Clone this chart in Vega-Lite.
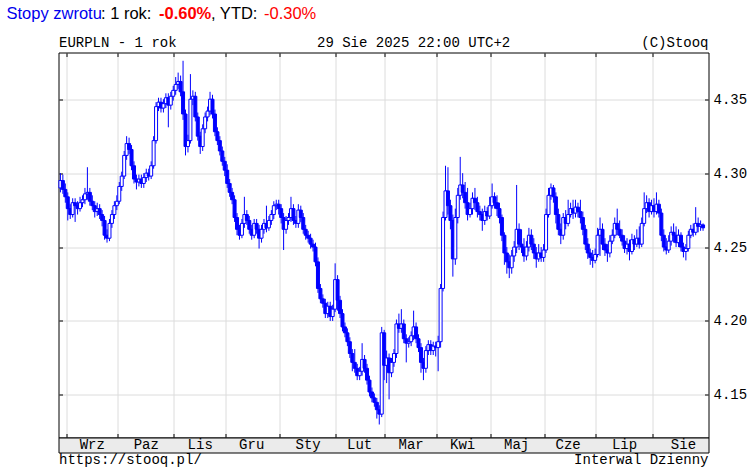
{
  "$schema": "https://vega.github.io/schema/vega-lite/v6.json",
  "autosize": {"type": "pad"},
  "padding": {"left": 5.5, "top": 4.5, "right": 0, "bottom": 0},
  "background": "#ffffff",
  "spacing": 0,
  "bounds": "flush",
  "config": {
    "view": {"stroke": "#000000", "strokeWidth": 1},
    "text": {"font": "Liberation Mono", "fontSize": 14, "color": "#000000"}
  },
  "resolve": {"scale": {"x": "shared"}},
  "datasets": {
    "px": [
      {"d":"2024-08-28","o":4.290,"h":4.300,"l":4.287,"c":4.295},
      {"d":"2024-08-29","o":4.295,"h":4.299,"l":4.286,"c":4.289},
      {"d":"2024-08-30","o":4.289,"h":4.293,"l":4.280,"c":4.284},
      {"d":"2024-09-02","o":4.284,"h":4.287,"l":4.268,"c":4.276},
      {"d":"2024-09-03","o":4.276,"h":4.279,"l":4.269,"c":4.272},
      {"d":"2024-09-04","o":4.272,"h":4.283,"l":4.270,"c":4.280},
      {"d":"2024-09-05","o":4.280,"h":4.283,"l":4.267,"c":4.278},
      {"d":"2024-09-06","o":4.278,"h":4.281,"l":4.272,"c":4.276},
      {"d":"2024-09-09","o":4.276,"h":4.284,"l":4.274,"c":4.280},
      {"d":"2024-09-10","o":4.280,"h":4.285,"l":4.277,"c":4.282},
      {"d":"2024-09-11","o":4.282,"h":4.290,"l":4.279,"c":4.286},
      {"d":"2024-09-12","o":4.286,"h":4.304,"l":4.282,"c":4.287},
      {"d":"2024-09-13","o":4.287,"h":4.290,"l":4.278,"c":4.281},
      {"d":"2024-09-16","o":4.281,"h":4.285,"l":4.275,"c":4.278},
      {"d":"2024-09-17","o":4.278,"h":4.281,"l":4.270,"c":4.274},
      {"d":"2024-09-18","o":4.274,"h":4.280,"l":4.271,"c":4.276},
      {"d":"2024-09-19","o":4.276,"h":4.279,"l":4.269,"c":4.272},
      {"d":"2024-09-20","o":4.272,"h":4.275,"l":4.264,"c":4.268},
      {"d":"2024-09-23","o":4.268,"h":4.271,"l":4.255,"c":4.258},
      {"d":"2024-09-24","o":4.258,"h":4.262,"l":4.253,"c":4.256},
      {"d":"2024-09-25","o":4.256,"h":4.269,"l":4.254,"c":4.266},
      {"d":"2024-09-26","o":4.266,"h":4.275,"l":4.263,"c":4.272},
      {"d":"2024-09-27","o":4.272,"h":4.281,"l":4.269,"c":4.278},
      {"d":"2024-09-30","o":4.278,"h":4.285,"l":4.275,"c":4.281},
      {"d":"2024-10-01","o":4.281,"h":4.294,"l":4.279,"c":4.291},
      {"d":"2024-10-02","o":4.291,"h":4.301,"l":4.288,"c":4.298},
      {"d":"2024-10-03","o":4.298,"h":4.315,"l":4.296,"c":4.312},
      {"d":"2024-10-04","o":4.312,"h":4.325,"l":4.309,"c":4.320},
      {"d":"2024-10-07","o":4.320,"h":4.324,"l":4.313,"c":4.316},
      {"d":"2024-10-08","o":4.316,"h":4.319,"l":4.302,"c":4.305},
      {"d":"2024-10-09","o":4.305,"h":4.308,"l":4.293,"c":4.296},
      {"d":"2024-10-10","o":4.296,"h":4.299,"l":4.289,"c":4.294},
      {"d":"2024-10-11","o":4.294,"h":4.299,"l":4.291,"c":4.296},
      {"d":"2024-10-14","o":4.296,"h":4.299,"l":4.290,"c":4.293},
      {"d":"2024-10-15","o":4.293,"h":4.300,"l":4.290,"c":4.297},
      {"d":"2024-10-16","o":4.297,"h":4.303,"l":4.294,"c":4.300},
      {"d":"2024-10-17","o":4.300,"h":4.303,"l":4.295,"c":4.298},
      {"d":"2024-10-18","o":4.298,"h":4.308,"l":4.296,"c":4.305},
      {"d":"2024-10-21","o":4.305,"h":4.325,"l":4.303,"c":4.322},
      {"d":"2024-10-22","o":4.322,"h":4.348,"l":4.320,"c":4.345},
      {"d":"2024-10-23","o":4.345,"h":4.351,"l":4.342,"c":4.348},
      {"d":"2024-10-24","o":4.348,"h":4.351,"l":4.341,"c":4.344},
      {"d":"2024-10-25","o":4.344,"h":4.350,"l":4.341,"c":4.347},
      {"d":"2024-10-28","o":4.347,"h":4.354,"l":4.344,"c":4.351},
      {"d":"2024-10-29","o":4.351,"h":4.354,"l":4.331,"c":4.346},
      {"d":"2024-10-30","o":4.346,"h":4.355,"l":4.343,"c":4.352},
      {"d":"2024-10-31","o":4.352,"h":4.359,"l":4.349,"c":4.356},
      {"d":"2024-11-01","o":4.356,"h":4.365,"l":4.353,"c":4.360},
      {"d":"2024-11-04","o":4.360,"h":4.368,"l":4.357,"c":4.362},
      {"d":"2024-11-05","o":4.362,"h":4.366,"l":4.352,"c":4.355},
      {"d":"2024-11-06","o":4.355,"h":4.376,"l":4.336,"c":4.340},
      {"d":"2024-11-07","o":4.340,"h":4.343,"l":4.312,"c":4.318},
      {"d":"2024-11-08","o":4.318,"h":4.326,"l":4.314,"c":4.322},
      {"d":"2024-11-11","o":4.322,"h":4.367,"l":4.320,"c":4.350},
      {"d":"2024-11-12","o":4.350,"h":4.356,"l":4.346,"c":4.352},
      {"d":"2024-11-13","o":4.352,"h":4.355,"l":4.335,"c":4.338},
      {"d":"2024-11-14","o":4.338,"h":4.341,"l":4.322,"c":4.325},
      {"d":"2024-11-15","o":4.325,"h":4.328,"l":4.313,"c":4.318},
      {"d":"2024-11-18","o":4.318,"h":4.333,"l":4.315,"c":4.330},
      {"d":"2024-11-19","o":4.330,"h":4.341,"l":4.327,"c":4.338},
      {"d":"2024-11-20","o":4.338,"h":4.345,"l":4.335,"c":4.342},
      {"d":"2024-11-21","o":4.342,"h":4.355,"l":4.339,"c":4.350},
      {"d":"2024-11-22","o":4.350,"h":4.353,"l":4.337,"c":4.340},
      {"d":"2024-11-25","o":4.340,"h":4.343,"l":4.325,"c":4.328},
      {"d":"2024-11-26","o":4.328,"h":4.331,"l":4.319,"c":4.322},
      {"d":"2024-11-27","o":4.322,"h":4.325,"l":4.312,"c":4.315},
      {"d":"2024-11-28","o":4.315,"h":4.318,"l":4.305,"c":4.308},
      {"d":"2024-11-29","o":4.308,"h":4.311,"l":4.298,"c":4.302},
      {"d":"2024-12-02","o":4.302,"h":4.306,"l":4.290,"c":4.293},
      {"d":"2024-12-03","o":4.293,"h":4.296,"l":4.284,"c":4.287},
      {"d":"2024-12-04","o":4.287,"h":4.290,"l":4.279,"c":4.282},
      {"d":"2024-12-05","o":4.282,"h":4.285,"l":4.267,"c":4.270},
      {"d":"2024-12-06","o":4.270,"h":4.273,"l":4.258,"c":4.262},
      {"d":"2024-12-09","o":4.262,"h":4.265,"l":4.255,"c":4.258},
      {"d":"2024-12-10","o":4.258,"h":4.269,"l":4.256,"c":4.266},
      {"d":"2024-12-11","o":4.266,"h":4.284,"l":4.263,"c":4.272},
      {"d":"2024-12-12","o":4.272,"h":4.275,"l":4.265,"c":4.268},
      {"d":"2024-12-13","o":4.268,"h":4.271,"l":4.259,"c":4.262},
      {"d":"2024-12-16","o":4.262,"h":4.265,"l":4.255,"c":4.258},
      {"d":"2024-12-17","o":4.258,"h":4.269,"l":4.256,"c":4.266},
      {"d":"2024-12-18","o":4.266,"h":4.269,"l":4.259,"c":4.262},
      {"d":"2024-12-19","o":4.262,"h":4.265,"l":4.249,"c":4.256},
      {"d":"2024-12-20","o":4.256,"h":4.265,"l":4.253,"c":4.262},
      {"d":"2024-12-23","o":4.262,"h":4.269,"l":4.259,"c":4.266},
      {"d":"2024-12-24","o":4.266,"h":4.278,"l":4.260,"c":4.263},
      {"d":"2024-12-25","o":4.263,"h":4.271,"l":4.261,"c":4.268},
      {"d":"2024-12-26","o":4.268,"h":4.275,"l":4.265,"c":4.272},
      {"d":"2024-12-27","o":4.272,"h":4.281,"l":4.269,"c":4.278},
      {"d":"2024-12-30","o":4.278,"h":4.282,"l":4.275,"c":4.279},
      {"d":"2024-12-31","o":4.279,"h":4.282,"l":4.272,"c":4.276},
      {"d":"2025-01-01","o":4.276,"h":4.279,"l":4.266,"c":4.270},
      {"d":"2025-01-02","o":4.270,"h":4.273,"l":4.248,"c":4.262},
      {"d":"2025-01-03","o":4.262,"h":4.271,"l":4.259,"c":4.268},
      {"d":"2025-01-06","o":4.268,"h":4.273,"l":4.265,"c":4.270},
      {"d":"2025-01-07","o":4.270,"h":4.284,"l":4.267,"c":4.276},
      {"d":"2025-01-08","o":4.276,"h":4.279,"l":4.265,"c":4.268},
      {"d":"2025-01-09","o":4.268,"h":4.271,"l":4.263,"c":4.266},
      {"d":"2025-01-10","o":4.266,"h":4.279,"l":4.263,"c":4.275},
      {"d":"2025-01-13","o":4.275,"h":4.278,"l":4.267,"c":4.270},
      {"d":"2025-01-14","o":4.270,"h":4.273,"l":4.259,"c":4.262},
      {"d":"2025-01-15","o":4.262,"h":4.265,"l":4.255,"c":4.258},
      {"d":"2025-01-16","o":4.258,"h":4.261,"l":4.253,"c":4.256},
      {"d":"2025-01-17","o":4.256,"h":4.259,"l":4.249,"c":4.252},
      {"d":"2025-01-20","o":4.252,"h":4.255,"l":4.247,"c":4.250},
      {"d":"2025-01-21","o":4.250,"h":4.253,"l":4.237,"c":4.240},
      {"d":"2025-01-22","o":4.240,"h":4.243,"l":4.219,"c":4.222},
      {"d":"2025-01-23","o":4.222,"h":4.225,"l":4.212,"c":4.215},
      {"d":"2025-01-24","o":4.215,"h":4.218,"l":4.209,"c":4.212},
      {"d":"2025-01-27","o":4.212,"h":4.215,"l":4.202,"c":4.205},
      {"d":"2025-01-28","o":4.205,"h":4.213,"l":4.202,"c":4.210},
      {"d":"2025-01-29","o":4.210,"h":4.213,"l":4.200,"c":4.203},
      {"d":"2025-01-30","o":4.203,"h":4.211,"l":4.200,"c":4.208},
      {"d":"2025-01-31","o":4.208,"h":4.239,"l":4.206,"c":4.228},
      {"d":"2025-02-03","o":4.228,"h":4.231,"l":4.207,"c":4.214},
      {"d":"2025-02-04","o":4.214,"h":4.217,"l":4.202,"c":4.205},
      {"d":"2025-02-05","o":4.205,"h":4.208,"l":4.193,"c":4.196},
      {"d":"2025-02-06","o":4.196,"h":4.199,"l":4.189,"c":4.192},
      {"d":"2025-02-07","o":4.192,"h":4.195,"l":4.183,"c":4.186},
      {"d":"2025-02-10","o":4.186,"h":4.189,"l":4.175,"c":4.178},
      {"d":"2025-02-11","o":4.178,"h":4.181,"l":4.166,"c":4.172},
      {"d":"2025-02-12","o":4.172,"h":4.181,"l":4.165,"c":4.168},
      {"d":"2025-02-13","o":4.168,"h":4.171,"l":4.160,"c":4.163},
      {"d":"2025-02-14","o":4.163,"h":4.169,"l":4.160,"c":4.166},
      {"d":"2025-02-17","o":4.166,"h":4.185,"l":4.163,"c":4.174},
      {"d":"2025-02-18","o":4.174,"h":4.177,"l":4.165,"c":4.168},
      {"d":"2025-02-19","o":4.168,"h":4.171,"l":4.157,"c":4.160},
      {"d":"2025-02-20","o":4.160,"h":4.163,"l":4.149,"c":4.152},
      {"d":"2025-02-21","o":4.152,"h":4.155,"l":4.145,"c":4.148},
      {"d":"2025-02-24","o":4.148,"h":4.151,"l":4.142,"c":4.145},
      {"d":"2025-02-25","o":4.145,"h":4.148,"l":4.134,"c":4.140},
      {"d":"2025-02-26","o":4.140,"h":4.143,"l":4.130,"c":4.137},
      {"d":"2025-02-27","o":4.137,"h":4.196,"l":4.135,"c":4.192},
      {"d":"2025-02-28","o":4.192,"h":4.194,"l":4.160,"c":4.170},
      {"d":"2025-03-03","o":4.170,"h":4.180,"l":4.158,"c":4.175},
      {"d":"2025-03-04","o":4.175,"h":4.178,"l":4.147,"c":4.165},
      {"d":"2025-03-05","o":4.165,"h":4.175,"l":4.162,"c":4.172},
      {"d":"2025-03-06","o":4.172,"h":4.181,"l":4.169,"c":4.178},
      {"d":"2025-03-07","o":4.178,"h":4.201,"l":4.175,"c":4.198},
      {"d":"2025-03-10","o":4.198,"h":4.205,"l":4.192,"c":4.195},
      {"d":"2025-03-11","o":4.195,"h":4.208,"l":4.192,"c":4.198},
      {"d":"2025-03-12","o":4.198,"h":4.201,"l":4.185,"c":4.188},
      {"d":"2025-03-13","o":4.188,"h":4.191,"l":4.172,"c":4.185},
      {"d":"2025-03-14","o":4.185,"h":4.189,"l":4.182,"c":4.186},
      {"d":"2025-03-17","o":4.186,"h":4.193,"l":4.183,"c":4.190},
      {"d":"2025-03-18","o":4.190,"h":4.207,"l":4.187,"c":4.196},
      {"d":"2025-03-19","o":4.196,"h":4.199,"l":4.185,"c":4.188},
      {"d":"2025-03-20","o":4.188,"h":4.191,"l":4.179,"c":4.182},
      {"d":"2025-03-21","o":4.182,"h":4.185,"l":4.165,"c":4.172},
      {"d":"2025-03-24","o":4.172,"h":4.175,"l":4.160,"c":4.168},
      {"d":"2025-03-25","o":4.168,"h":4.183,"l":4.165,"c":4.180},
      {"d":"2025-03-26","o":4.180,"h":4.187,"l":4.177,"c":4.184},
      {"d":"2025-03-27","o":4.184,"h":4.187,"l":4.177,"c":4.180},
      {"d":"2025-03-28","o":4.180,"h":4.186,"l":4.177,"c":4.183},
      {"d":"2025-03-31","o":4.183,"h":4.186,"l":4.176,"c":4.182},
      {"d":"2025-04-01","o":4.182,"h":4.190,"l":4.166,"c":4.186},
      {"d":"2025-04-02","o":4.186,"h":4.225,"l":4.182,"c":4.222},
      {"d":"2025-04-03","o":4.222,"h":4.274,"l":4.220,"c":4.270},
      {"d":"2025-04-04","o":4.270,"h":4.305,"l":4.268,"c":4.288},
      {"d":"2025-04-07","o":4.288,"h":4.304,"l":4.272,"c":4.278},
      {"d":"2025-04-08","o":4.278,"h":4.282,"l":4.262,"c":4.268},
      {"d":"2025-04-09","o":4.268,"h":4.272,"l":4.230,"c":4.242},
      {"d":"2025-04-10","o":4.242,"h":4.276,"l":4.238,"c":4.270},
      {"d":"2025-04-11","o":4.270,"h":4.290,"l":4.266,"c":4.285},
      {"d":"2025-04-14","o":4.285,"h":4.311,"l":4.282,"c":4.292},
      {"d":"2025-04-15","o":4.292,"h":4.300,"l":4.283,"c":4.287},
      {"d":"2025-04-16","o":4.287,"h":4.294,"l":4.276,"c":4.280},
      {"d":"2025-04-17","o":4.280,"h":4.290,"l":4.268,"c":4.272},
      {"d":"2025-04-18","o":4.272,"h":4.280,"l":4.270,"c":4.276},
      {"d":"2025-04-21","o":4.276,"h":4.287,"l":4.272,"c":4.283},
      {"d":"2025-04-22","o":4.283,"h":4.290,"l":4.275,"c":4.280},
      {"d":"2025-04-23","o":4.280,"h":4.284,"l":4.270,"c":4.274},
      {"d":"2025-04-24","o":4.274,"h":4.278,"l":4.268,"c":4.272},
      {"d":"2025-04-25","o":4.272,"h":4.276,"l":4.261,"c":4.268},
      {"d":"2025-04-28","o":4.268,"h":4.278,"l":4.265,"c":4.274},
      {"d":"2025-04-29","o":4.274,"h":4.277,"l":4.268,"c":4.271},
      {"d":"2025-04-30","o":4.271,"h":4.284,"l":4.269,"c":4.278},
      {"d":"2025-05-01","o":4.278,"h":4.293,"l":4.276,"c":4.284},
      {"d":"2025-05-02","o":4.284,"h":4.287,"l":4.276,"c":4.280},
      {"d":"2025-05-05","o":4.280,"h":4.285,"l":4.271,"c":4.276},
      {"d":"2025-05-06","o":4.276,"h":4.280,"l":4.266,"c":4.270},
      {"d":"2025-05-07","o":4.270,"h":4.272,"l":4.254,"c":4.258},
      {"d":"2025-05-08","o":4.258,"h":4.260,"l":4.238,"c":4.246},
      {"d":"2025-05-09","o":4.246,"h":4.250,"l":4.232,"c":4.240},
      {"d":"2025-05-12","o":4.240,"h":4.245,"l":4.229,"c":4.236},
      {"d":"2025-05-13","o":4.236,"h":4.248,"l":4.232,"c":4.244},
      {"d":"2025-05-14","o":4.244,"h":4.254,"l":4.240,"c":4.250},
      {"d":"2025-05-15","o":4.250,"h":4.292,"l":4.246,"c":4.262},
      {"d":"2025-05-16","o":4.262,"h":4.266,"l":4.248,"c":4.252},
      {"d":"2025-05-19","o":4.252,"h":4.262,"l":4.246,"c":4.250},
      {"d":"2025-05-20","o":4.250,"h":4.256,"l":4.240,"c":4.244},
      {"d":"2025-05-21","o":4.244,"h":4.254,"l":4.241,"c":4.250},
      {"d":"2025-05-22","o":4.250,"h":4.263,"l":4.247,"c":4.258},
      {"d":"2025-05-23","o":4.258,"h":4.262,"l":4.248,"c":4.252},
      {"d":"2025-05-26","o":4.252,"h":4.256,"l":4.242,"c":4.246},
      {"d":"2025-05-27","o":4.246,"h":4.250,"l":4.236,"c":4.242},
      {"d":"2025-05-28","o":4.242,"h":4.252,"l":4.240,"c":4.246},
      {"d":"2025-05-29","o":4.246,"h":4.250,"l":4.240,"c":4.243},
      {"d":"2025-05-30","o":4.243,"h":4.252,"l":4.240,"c":4.248},
      {"d":"2025-06-02","o":4.248,"h":4.276,"l":4.246,"c":4.272},
      {"d":"2025-06-03","o":4.272,"h":4.290,"l":4.270,"c":4.285},
      {"d":"2025-06-04","o":4.285,"h":4.293,"l":4.282,"c":4.290},
      {"d":"2025-06-05","o":4.290,"h":4.292,"l":4.280,"c":4.284},
      {"d":"2025-06-06","o":4.284,"h":4.287,"l":4.266,"c":4.272},
      {"d":"2025-06-09","o":4.272,"h":4.276,"l":4.258,"c":4.262},
      {"d":"2025-06-10","o":4.262,"h":4.266,"l":4.252,"c":4.258},
      {"d":"2025-06-11","o":4.258,"h":4.273,"l":4.255,"c":4.270},
      {"d":"2025-06-12","o":4.270,"h":4.275,"l":4.262,"c":4.266},
      {"d":"2025-06-13","o":4.266,"h":4.282,"l":4.264,"c":4.272},
      {"d":"2025-06-16","o":4.272,"h":4.280,"l":4.270,"c":4.276},
      {"d":"2025-06-17","o":4.276,"h":4.282,"l":4.269,"c":4.273},
      {"d":"2025-06-18","o":4.273,"h":4.282,"l":4.270,"c":4.277},
      {"d":"2025-06-19","o":4.277,"h":4.280,"l":4.270,"c":4.274},
      {"d":"2025-06-20","o":4.274,"h":4.282,"l":4.266,"c":4.270},
      {"d":"2025-06-23","o":4.270,"h":4.274,"l":4.258,"c":4.262},
      {"d":"2025-06-24","o":4.262,"h":4.265,"l":4.248,"c":4.252},
      {"d":"2025-06-25","o":4.252,"h":4.256,"l":4.242,"c":4.246},
      {"d":"2025-06-26","o":4.246,"h":4.249,"l":4.238,"c":4.243},
      {"d":"2025-06-27","o":4.243,"h":4.248,"l":4.236,"c":4.241},
      {"d":"2025-06-30","o":4.241,"h":4.249,"l":4.239,"c":4.245},
      {"d":"2025-07-01","o":4.245,"h":4.263,"l":4.243,"c":4.258},
      {"d":"2025-07-02","o":4.258,"h":4.270,"l":4.244,"c":4.262},
      {"d":"2025-07-03","o":4.262,"h":4.266,"l":4.248,"c":4.252},
      {"d":"2025-07-04","o":4.252,"h":4.256,"l":4.244,"c":4.248},
      {"d":"2025-07-07","o":4.248,"h":4.252,"l":4.240,"c":4.246},
      {"d":"2025-07-08","o":4.246,"h":4.258,"l":4.243,"c":4.254},
      {"d":"2025-07-09","o":4.254,"h":4.262,"l":4.252,"c":4.258},
      {"d":"2025-07-10","o":4.258,"h":4.270,"l":4.256,"c":4.266},
      {"d":"2025-07-11","o":4.266,"h":4.276,"l":4.258,"c":4.262},
      {"d":"2025-07-14","o":4.262,"h":4.268,"l":4.256,"c":4.258},
      {"d":"2025-07-15","o":4.258,"h":4.262,"l":4.251,"c":4.254},
      {"d":"2025-07-16","o":4.254,"h":4.258,"l":4.246,"c":4.249},
      {"d":"2025-07-17","o":4.249,"h":4.256,"l":4.245,"c":4.252},
      {"d":"2025-07-18","o":4.252,"h":4.255,"l":4.241,"c":4.247},
      {"d":"2025-07-21","o":4.247,"h":4.259,"l":4.245,"c":4.255},
      {"d":"2025-07-22","o":4.255,"h":4.258,"l":4.248,"c":4.252},
      {"d":"2025-07-23","o":4.252,"h":4.262,"l":4.250,"c":4.256},
      {"d":"2025-07-24","o":4.256,"h":4.264,"l":4.249,"c":4.252},
      {"d":"2025-07-25","o":4.252,"h":4.270,"l":4.250,"c":4.266},
      {"d":"2025-07-28","o":4.266,"h":4.287,"l":4.264,"c":4.276},
      {"d":"2025-07-29","o":4.276,"h":4.285,"l":4.273,"c":4.280},
      {"d":"2025-07-30","o":4.280,"h":4.283,"l":4.270,"c":4.274},
      {"d":"2025-07-31","o":4.274,"h":4.282,"l":4.272,"c":4.278},
      {"d":"2025-08-01","o":4.278,"h":4.283,"l":4.270,"c":4.274},
      {"d":"2025-08-04","o":4.274,"h":4.287,"l":4.272,"c":4.279},
      {"d":"2025-08-05","o":4.279,"h":4.282,"l":4.270,"c":4.273},
      {"d":"2025-08-06","o":4.273,"h":4.276,"l":4.254,"c":4.258},
      {"d":"2025-08-07","o":4.258,"h":4.262,"l":4.247,"c":4.250},
      {"d":"2025-08-08","o":4.250,"h":4.256,"l":4.245,"c":4.248},
      {"d":"2025-08-11","o":4.248,"h":4.258,"l":4.246,"c":4.254},
      {"d":"2025-08-12","o":4.254,"h":4.264,"l":4.251,"c":4.260},
      {"d":"2025-08-13","o":4.260,"h":4.266,"l":4.253,"c":4.258},
      {"d":"2025-08-14","o":4.258,"h":4.264,"l":4.250,"c":4.253},
      {"d":"2025-08-15","o":4.253,"h":4.262,"l":4.250,"c":4.258},
      {"d":"2025-08-18","o":4.258,"h":4.260,"l":4.247,"c":4.250},
      {"d":"2025-08-19","o":4.250,"h":4.253,"l":4.243,"c":4.247},
      {"d":"2025-08-20","o":4.247,"h":4.252,"l":4.241,"c":4.249},
      {"d":"2025-08-21","o":4.249,"h":4.261,"l":4.247,"c":4.258},
      {"d":"2025-08-22","o":4.258,"h":4.265,"l":4.256,"c":4.262},
      {"d":"2025-08-25","o":4.262,"h":4.266,"l":4.257,"c":4.260},
      {"d":"2025-08-26","o":4.260,"h":4.277,"l":4.258,"c":4.266},
      {"d":"2025-08-27","o":4.266,"h":4.270,"l":4.260,"c":4.264},
      {"d":"2025-08-28","o":4.264,"h":4.268,"l":4.261,"c":4.265},
      {"d":"2025-08-29","o":4.265,"h":4.266,"l":4.261,"c":4.263}
    ]
  },
  "vconcat": [
    {
      "width": 650,
      "height": 385,
      "resolve": {"axis": {"x": "independent", "y": "independent"}},
      "layer": [
        {
          "data": {"name": "px"},
          "mark": {"type": "rule", "color": "#0000ff", "strokeWidth": 1},
          "encoding": {
            "x": {
              "field": "d", "type": "ordinal",
              "scale": {"type": "band", "paddingInner": 0, "paddingOuter": 2.8, "align": 0.14},
              "axis": {
                "orient": "bottom", "title": null, "labels": false, "domain": false,
                "values": ["2024-09-02","2024-10-01","2024-11-01","2024-12-02","2025-01-01","2025-02-03","2025-03-03","2025-04-01","2025-05-01","2025-06-02","2025-07-01","2025-08-01"],
                "bandPosition": 0,
                "grid": true, "gridColor": "#dcdcdc", "gridWidth": 1,
                "ticks": true, "tickSize": -4, "tickColor": "#000000"
              }
            },
            "y": {
              "field": "l", "type": "quantitative",
              "scale": {"domain": [4.1212, 4.3816], "nice": false, "zero": false},
              "axis": {
                "orient": "right", "title": null, "domain": false,
                "values": [4.15, 4.2, 4.25, 4.3, 4.35], "format": ".2f",
                "grid": true, "gridColor": "#dcdcdc", "gridWidth": 1,
                "ticks": true, "tickSize": -4, "tickColor": "#000000",
                "labelPadding": 8.5, "labelFont": "Liberation Mono", "labelFontSize": 14, "labelColor": "#000000"
              }
            },
            "y2": {"field": "h"}
          }
        },
        {
          "data": {"name": "px"},
          "mark": {"type": "bar", "width": 3, "stroke": "#0000ff", "strokeWidth": 1},
          "encoding": {
            "x": {
              "field": "d", "type": "ordinal",
              "axis": {
                "orient": "top", "title": null, "labels": false, "domain": false, "grid": false,
                "values": ["2024-09-02","2024-10-01","2024-11-01","2024-12-02","2025-01-01","2025-02-03","2025-03-03","2025-04-01","2025-05-01","2025-06-02","2025-07-01","2025-08-01"],
                "bandPosition": 0,
                "ticks": true, "tickSize": -4, "tickColor": "#000000"
              }
            },
            "y": {
              "field": "o", "type": "quantitative",
              "axis": {
                "orient": "left", "title": null, "labels": false, "domain": false, "grid": false,
                "values": [4.15, 4.2, 4.25, 4.3, 4.35],
                "ticks": true, "tickSize": -4, "tickColor": "#000000"
              }
            },
            "y2": {"field": "c"},
            "fill": {"condition": {"test": "datum.c > datum.o", "value": "#ffffff"}, "value": "#0000ff"}
          }
        },
        {
          "data": {"values": [{"k": 1}]},
          "mark": {"type": "text", "text": "Stopy zwrotu", "x": -52, "y": -34, "align": "left", "baseline": "alphabetic", "font": "Liberation Sans", "fontSize": 16.5, "color": "#0000ee"}
        },
        {
          "data": {"values": [{"k": 1}]},
          "mark": {"type": "rule", "x": -52, "x2": 42.5, "y": -31.5, "color": "#0000ee", "strokeWidth": 1},
          "encoding": {}
        },
        {
          "data": {"values": [{"k": 1}]},
          "mark": {"type": "text", "text": ": 1 rok: ", "x": 42.5, "y": -34, "align": "left", "baseline": "alphabetic", "font": "Liberation Sans", "fontSize": 16.5, "color": "#000000"}
        },
        {
          "data": {"values": [{"k": 1}]},
          "mark": {"type": "text", "text": "-0.60%", "x": 100.5, "y": -34, "align": "left", "baseline": "alphabetic", "font": "Liberation Sans", "fontSize": 16.5, "fontWeight": "bold", "color": "#ff0000"}
        },
        {
          "data": {"values": [{"k": 1}]},
          "mark": {"type": "text", "text": ", YTD: ", "x": 152.5, "y": -34, "align": "left", "baseline": "alphabetic", "font": "Liberation Sans", "fontSize": 16.5, "color": "#000000"}
        },
        {
          "data": {"values": [{"k": 1}]},
          "mark": {"type": "text", "text": "-0.30%", "x": 205.5, "y": -34, "align": "left", "baseline": "alphabetic", "font": "Liberation Sans", "fontSize": 16.5, "color": "#ff0000"}
        },
        {
          "data": {"values": [{"k": 1}]},
          "mark": {"type": "text", "text": "EURPLN - 1 rok", "x": 0.5, "y": -5.8, "align": "left", "baseline": "alphabetic"}
        },
        {
          "data": {"values": [{"k": 1}]},
          "mark": {"type": "text", "text": "29 Sie 2025 22:00 UTC+2", "x": 258.5, "y": -5.8, "align": "left", "baseline": "alphabetic"}
        },
        {
          "data": {"values": [{"k": 1}]},
          "mark": {"type": "text", "text": "(C)Stooq", "x": 650, "y": -5.8, "align": "right", "baseline": "alphabetic"}
        },
        {
          "data": {"values": [{"k": 1}]},
          "mark": {"type": "text", "text": "https://stooq.pl/", "x": 0.5, "y": 411.5, "align": "left", "baseline": "alphabetic"}
        },
        {
          "data": {"values": [{"k": 1}]},
          "mark": {"type": "text", "text": "Interwal Dzienny", "x": 650, "y": 411.5, "align": "right", "baseline": "alphabetic"}
        }
      ]
    },
    {
      "width": 650,
      "height": 15,
      "view": {"fill": "#ebebeb", "stroke": "#000000"},
      "data": {"values": [
        {"m": "Wrz", "d": "2024-09-16"},
        {"m": "Paz", "d": "2024-10-16"},
        {"m": "Lis", "d": "2024-11-15"},
        {"m": "Gru", "d": "2024-12-16"},
        {"m": "Sty", "d": "2025-01-16"},
        {"m": "Lut", "d": "2025-02-14"},
        {"m": "Mar", "d": "2025-03-17"},
        {"m": "Kwi", "d": "2025-04-15"},
        {"m": "Maj", "d": "2025-05-15"},
        {"m": "Cze", "d": "2025-06-13"},
        {"m": "Lip", "d": "2025-07-16"},
        {"m": "Sie", "d": "2025-08-19"}
      ]},
      "mark": {"type": "text", "font": "Liberation Mono", "fontSize": 14, "color": "#000000", "baseline": "middle", "align": "center"},
      "encoding": {
        "x": {"field": "d", "type": "ordinal", "axis": null},
        "text": {"field": "m"}
      }
    }
  ]
}
